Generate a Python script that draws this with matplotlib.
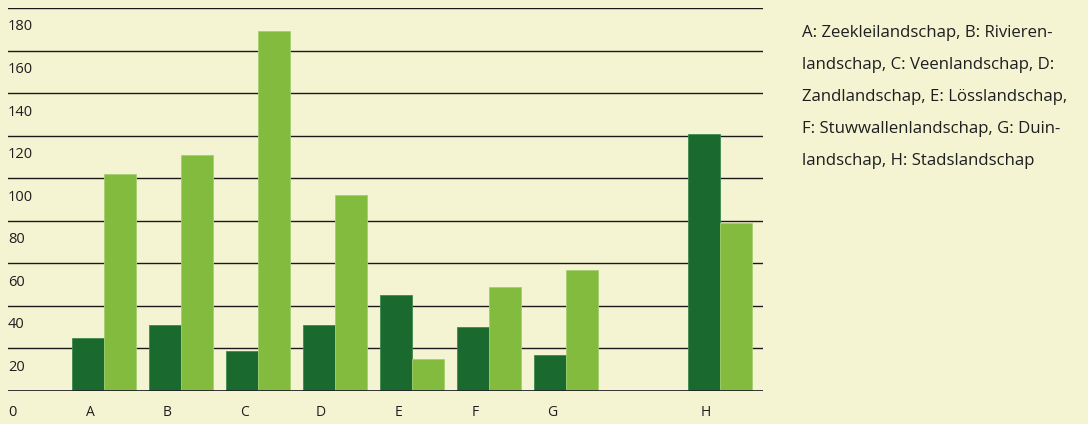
"""Landscape-type bar chart: two series per landscape, cream background."""

import matplotlib
matplotlib.use("Agg")
import matplotlib.pyplot as plt
import numpy as np

categories = ["A", "B", "C", "D", "E", "F", "G", "H"]
slots = [0, 1, 2, 3, 4, 5, 6, 8]          # H sits one slot further right
series_dark = [25, 31, 19, 31, 45, 30, 17, 121]
series_light = [102, 111, 169, 92, 15, 49, 57, 79]
y_ticks = [0, 20, 40, 60, 80, 100, 120, 140, 160, 180]

legend_lines = [
    "A: Zeekleilandschap, B: Rivieren-",
    "landschap, C: Veenlandschap, D:",
    "Zandlandschap, E: Lösslandschap,",
    "F: Stuwwallenlandschap, G: Duin-",
    "landschap, H: Stadslandschap",
]

_BG = "#F4F4D3"
_DARK = "#1A6A2F"
_LIGHT = "#82BB3E"
_LINE = "#1A1A1A"
_TEXT = "#1E1E1E"

plt.rcParams["font.family"] = ["Open Sans", "DejaVu Sans"]

W, H = 1088, 424
fig = plt.figure(figsize=(W / 100, H / 100), dpi=100, facecolor=_BG)
ax = fig.add_axes([8 / W, 1 - 391 / H, (763 - 8) / W, (391 - 8) / H])
ax.set_facecolor(_BG)

x = np.array(slots, dtype=float)
w = 32 / 77
ax.bar(x - w / 2, series_dark, width=w, color=_DARK,
       edgecolor="#3E8A4E", linewidth=0.6, zorder=3)
ax.bar(x + w / 2, series_light, width=w, color=_LIGHT,
       edgecolor="#A3D070", linewidth=0.6, zorder=3)

ax.set_xlim((8 - 104) / 77, (763 - 104) / 77)
ax.set_ylim(0, 180)

# horizontal rules, heavier baseline
for v in y_ticks[1:]:
    ax.axhline(v, color=_LINE, linewidth=1.0, zorder=1)
ax.axhline(0, color="#222222", linewidth=2.0, zorder=4)

# value labels hang just below their rule on the left edge
for v in y_ticks:
    off = -21 if v == 0 else -19
    ax.annotate(str(v), xy=(0, v), xycoords=("axes fraction", "data"),
                xytext=(0, off), textcoords="offset pixels",
                ha="left", va="center", fontsize=10.5, color=_TEXT)

for cat, s in zip(categories, slots):
    ax.annotate(cat, xy=(s - 0.18, 0), xytext=(0, -21),
                textcoords="offset pixels", ha="center", va="center",
                fontsize=10, color=_TEXT)

ax.set_xticks([])
ax.set_yticks([])
for spine in ax.spines.values():
    spine.set_visible(False)

for i, line in enumerate(legend_lines):
    fig.text(802 / W, 1 - (33 + 32 * i) / H, line, ha="left", va="center",
             fontsize=12.1, color=_TEXT)

fig.savefig("out.png", dpi=100, facecolor=_BG)
plt.close(fig)
